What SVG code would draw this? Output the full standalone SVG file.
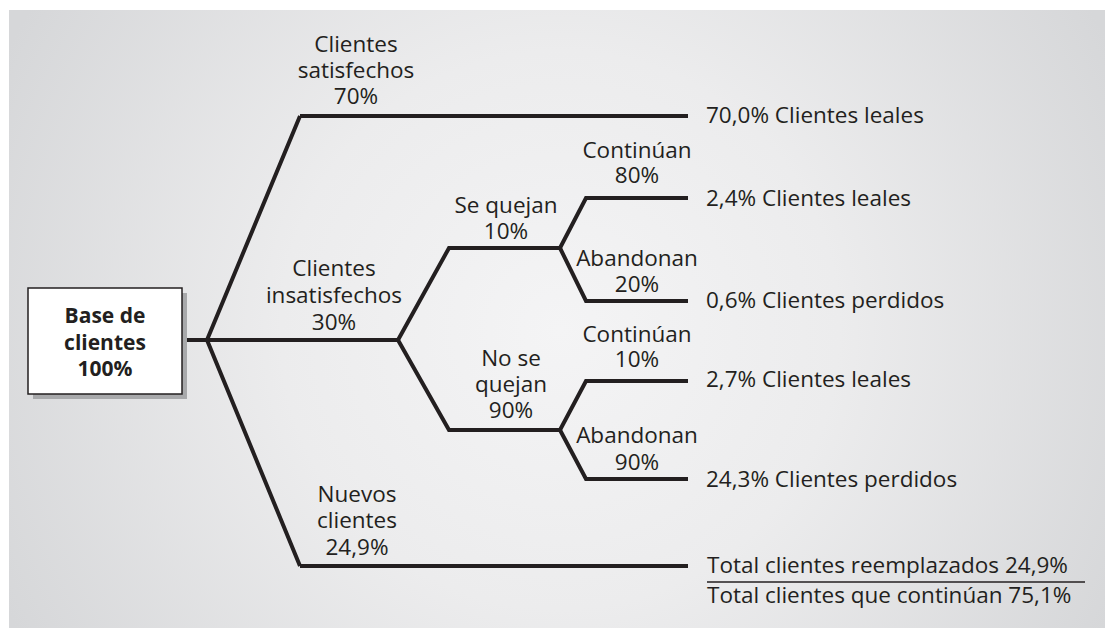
<svg xmlns="http://www.w3.org/2000/svg" width="1105" height="628" viewBox="0 0 1105 628">
<defs>
<radialGradient id="bg" cx="560" cy="330" r="620" gradientUnits="userSpaceOnUse">
<stop offset="0" stop-color="#f4f4f5"/>
<stop offset="0.45" stop-color="#ececed"/>
<stop offset="1" stop-color="#d6d7d9"/>
</radialGradient>
<style>
text{font-family:"Open Sans","Noto Sans","Liberation Sans",sans-serif;font-size:22.5px;fill:#231f20}
.c{text-anchor:middle}
.b{font-weight:bold;font-size:21px}
.ln{fill:none;stroke:#231f20;stroke-width:4;stroke-linejoin:miter}
</style>
</defs>
<rect x="0" y="0" width="1105" height="628" fill="#ffffff"/>
<rect x="9" y="10" width="1096" height="618" fill="url(#bg)"/>
<g id="connectors">
<path class="ln" d="M182,340 H398"/>
<path class="ln" d="M300,116 L207,340 L300,566"/>
<path class="ln" d="M300,116 H688"/>
<path class="ln" d="M300,566 H688"/>
<path class="ln" d="M398,340 L449,248 H560 L586,198 H688"/>
<path class="ln" d="M560,248 L586,301 H688"/>
<path class="ln" d="M398,340 L449,430 H560 L586,381 H688"/>
<path class="ln" d="M560,430 L586,479 H688"/>
<path d="M707,582 H1085" stroke="#231f20" stroke-width="1.5" fill="none"/>
</g>
<g id="base">
<rect x="33" y="293" width="154" height="106" fill="#a8a9ab"/>
<rect x="28" y="288" width="154" height="106" fill="#ffffff" stroke="#231f20" stroke-width="1.5"/>
<text class="c b" x="105" y="323">Base de</text>
<text class="c b" x="105" y="350">clientes</text>
<text class="c b" x="105" y="376">100%</text>
</g>
<g id="satisfechos">
<text class="c" x="356" y="52">Clientes</text>
<text class="c" x="356" y="78">satisfechos</text>
<text class="c" x="356" y="104">70%</text>
</g>
<g id="insatisfechos">
<text class="c" x="334" y="276">Clientes</text>
<text class="c" x="334" y="303">insatisfechos</text>
<text class="c" x="334" y="330">30%</text>
</g>
<g id="nuevos">
<text class="c" x="357" y="502">Nuevos</text>
<text class="c" x="357" y="528">clientes</text>
<text class="c" x="357" y="555">24,9%</text>
</g>
<g id="sequejan">
<text class="c" x="506" y="213">Se quejan</text>
<text class="c" x="506" y="239">10%</text>
</g>
<g id="nosequejan">
<text class="c" x="511" y="366">No se</text>
<text class="c" x="511" y="392">quejan</text>
<text class="c" x="511" y="418">90%</text>
</g>
<g id="continuan1">
<text class="c" x="637" y="158">Continúan</text>
<text class="c" x="637" y="183">80%</text>
</g>
<g id="abandonan1">
<text class="c" x="637" y="266">Abandonan</text>
<text class="c" x="637" y="292">20%</text>
</g>
<g id="continuan2">
<text class="c" x="637" y="342">Continúan</text>
<text class="c" x="637" y="367">10%</text>
</g>
<g id="abandonan2">
<text class="c" x="637" y="443">Abandonan</text>
<text class="c" x="637" y="470">90%</text>
</g>
<g id="results">
<text x="706" y="123">70,0% Clientes leales</text>
<text x="706" y="206">2,4% Clientes leales</text>
<text x="706" y="308">0,6% Clientes perdidos</text>
<text x="706" y="387">2,7% Clientes leales</text>
<text x="706" y="487">24,3% Clientes perdidos</text>
<text x="707" y="573">Total clientes reemplazados 24,9%</text>
<text x="707" y="603">Total clientes que continúan 75,1%</text>
</g>
</svg>
